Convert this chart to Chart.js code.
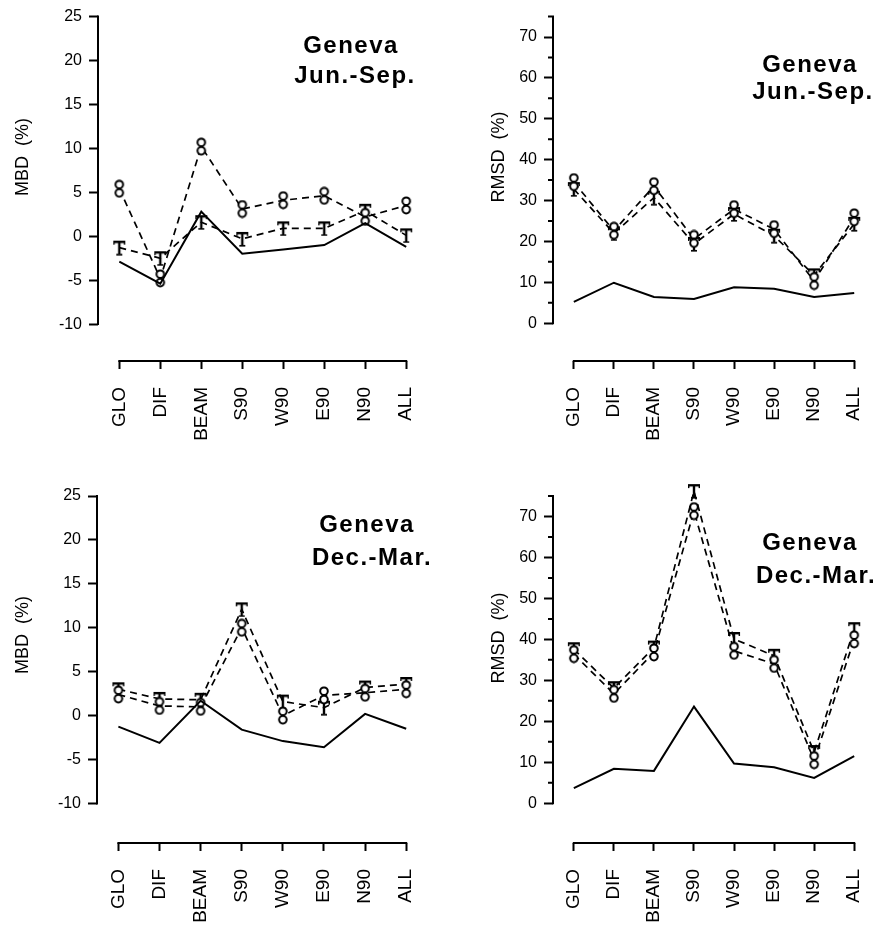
<!DOCTYPE html>
<html>
<head>
<meta charset="utf-8">
<script src="https://cdn.jsdelivr.net/npm/chart.js@4.4.1/dist/chart.umd.min.js"></script>
<style>
  html, body { margin: 0; padding: 0; background: #fff; }
  #wrap { position: relative; width: 895px; height: 926px; }
  canvas { position: absolute; }
</style>
</head>
<body>
<div id="wrap">
  <canvas id="mbdSummer" width="447" height="463" style="left:0;top:0"></canvas>
  <canvas id="rmsdSummer" width="448" height="463" style="left:447px;top:0"></canvas>
  <canvas id="mbdWinter" width="447" height="463" style="left:0;top:463px"></canvas>
  <canvas id="rmsdWinter" width="448" height="463" style="left:447px;top:463px"></canvas>
</div>
<script>
// categories + tick labels
const categories = ["GLO", "DIF", "BEAM", "S90", "W90", "E90", "N90", "ALL"];
const mbdTicks = [-10, -5, 0, 5, 10, 15, 20, 25];
const rmsdTicks = [0, 10, 20, 30, 40, 50, 60, 70];
const rmsdMinorTicks = [5, 15, 25, 35, 45, 55, 65, 75];

// Jun.-Sep.
const mbdSummerSolid   = [-2.9, -5.4, 2.8, -2.0, -1.5, -1.0, 1.5, -1.2];
const mbdSummerCircle  = [5.4, -4.8, 10.2, 3.1, 4.1, 4.6, 2.2, 3.5];
const mbdSummerTee     = [-1.3, -2.5, 1.6, -0.3, 0.9, 0.9, 2.9, 0.1];
const rmsdSummerSolid  = [5.2, 9.9, 6.4, 5.9, 8.8, 8.4, 6.4, 7.4];
const rmsdSummerCircle = [34.5, 22.6, 33.5, 20.6, 27.9, 23.0, 10.3, 25.9];
const rmsdSummerTee    = [32.8, 22.0, 30.7, 19.4, 26.7, 21.4, 11.7, 24.3];

// Dec.-Mar.
const mbdWinterSolid   = [-1.25, -3.1, 1.7, -1.6, -2.9, -3.6, 0.2, -1.5];
const mbdWinterCircle  = [2.4, 1.1, 1.0, 10.0, 0.0, 2.3, 2.6, 3.0];
const mbdWinterTee     = [3.0, 1.9, 1.8, 12.1, 1.6, 0.9, 3.2, 3.6];
const rmsdWinterSolid  = [3.7, 8.4, 7.9, 23.6, 9.7, 8.8, 6.2, 11.5];
const rmsdWinterCircle = [36.4, 26.7, 36.8, 71.3, 37.2, 34.0, 10.5, 40.0];
const rmsdWinterTee    = [37.6, 28.1, 38.0, 76.2, 40.1, 36.0, 12.5, 42.5];

Chart.defaults.font.family = "'Liberation Sans', Arial, sans-serif";
Chart.defaults.color = "#000";

/* ---------- markers ---------- */
function eightMark() {
  const c = document.createElement("canvas");
  c.width = 12; c.height = 19;
  const g = c.getContext("2d");
  g.lineWidth = 2;
  g.strokeStyle = "#000";
  g.fillStyle = "#fff";
  [5.2, 13.6].forEach(cy => {
    g.beginPath();
    g.arc(6, cy, 3.8, 0, Math.PI * 2);
    g.fill();
    g.stroke();
  });
  return c;
}

function teeMark() {
  const c = document.createElement("canvas");
  c.width = 14; c.height = 16;
  const g = c.getContext("2d");
  g.fillStyle = "#000";
  g.fillRect(1, 1, 12, 2.4);     // bar
  g.fillRect(1, 1, 1.4, 4);      // serifs
  g.fillRect(11.6, 1, 1.4, 4);
  g.fillRect(5.8, 1, 2.4, 14);   // stem
  g.fillRect(4, 14, 6, 1.6);     // foot
  return c;
}

const circleStyle = eightMark();
const teeStyle = teeMark();

/* ---------- axes lines, minor ticks, titles ---------- */
const panelDecor = {
  id: "panelDecor",
  afterDraw(chart, args, o) {
    const ctx = chart.ctx;
    const xs = chart.scales.x, ys = chart.scales.y;
    const ax = chart.chartArea.left;
    const ay = chart.chartArea.bottom;
    ctx.save();
    ctx.strokeStyle = "#000";
    ctx.lineWidth = 2;
    ctx.beginPath();
    ctx.moveTo(ax, ys.getPixelForValue(o.axisTop) - 1);
    ctx.lineTo(ax, ys.getPixelForValue(o.axisBottom) + 1);
    ctx.moveTo(xs.getPixelForValue(0) - 1, ay);
    ctx.lineTo(xs.getPixelForValue(categories.length - 1) + 1, ay);
    (o.minor || []).forEach(v => {
      const py = ys.getPixelForValue(v);
      ctx.moveTo(ax - 5, py);
      ctx.lineTo(ax, py);
    });
    ctx.stroke();

    // y title
    ctx.save();
    ctx.translate(o.yTitleX, o.yTitleY);
    ctx.rotate(-Math.PI / 2);
    ctx.font = "18px 'Liberation Sans', Arial, sans-serif";
    ctx.fillStyle = "#000";
    ctx.textAlign = "center";
    ctx.textBaseline = "middle";
    ctx.fillText(o.yTitle, 0, 0);
    ctx.restore();

    // panel title
    ctx.font = "bold 24px 'Liberation Sans', Arial, sans-serif";
    ctx.fillStyle = "#000";
    ctx.textAlign = "center";
    ctx.textBaseline = "alphabetic";
    ctx.letterSpacing = "1.5px";
    o.title.forEach((t, i) => ctx.fillText(t, o.titleX[i], o.titleY[i]));
    ctx.restore();
  }
};

const toPoints = arr => arr.map((v, i) => ({ x: i, y: v }));

function makePanel(id, o) {
  const el = document.getElementById(id);
  const dashed = (data, style) => ({
    data: toPoints(data),
    borderColor: "#000",
    borderWidth: 1.7,
    borderDash: [7, 5],
    pointStyle: style,
    pointRadius: 7,
    clip: false
  });
  return new Chart(el, {
    type: "line",
    data: {
      datasets: [
        { data: toPoints(o.solid), borderColor: "#000", borderWidth: 2, pointRadius: 0, clip: false },
        dashed(o.circle, circleStyle),
        dashed(o.tee, teeStyle)
      ]
    },
    options: {
      responsive: false,
      animation: false,
      devicePixelRatio: 1,
      layout: { padding: { left: 0, top: o.top, right: el.width - o.right, bottom: 0 } },
      plugins: {
        legend: { display: false },
        tooltip: { enabled: false },
        panelDecor: o.decor
      },
      scales: {
        x: {
          type: "linear",
          min: -0.52,
          max: categories.length - 1,
          afterFit: s => { s.height = el.height - o.axisY; },
          afterBuildTicks: s => { s.ticks = categories.map((c, i) => ({ value: i })); },
          ticks: {
            callback: v => categories[v],
            minRotation: 90,
            maxRotation: 90,
            autoSkip: false,
            padding: 18,
            font: { size: 19 }
          },
          grid: { drawOnChartArea: false, tickLength: 8, tickWidth: 2, color: "#000" },
          border: { display: false }
        },
        y: {
          min: o.yMin,
          max: o.yMax,
          afterFit: s => { s.width = o.axisX; },
          afterBuildTicks: s => { s.ticks = o.yTicks.map(v => ({ value: v })); },
          ticks: { font: { size: 16 }, padding: 7, callback: v => String(v) },
          grid: { drawOnChartArea: false, tickLength: 9, tickWidth: 2, color: "#000" },
          border: { display: false }
        }
      }
    },
    plugins: [panelDecor]
  });
}

makePanel("mbdSummer", {
  solid: mbdSummerSolid, circle: mbdSummerCircle, tee: mbdSummerTee,
  top: 15, right: 428, axisX: 98, axisY: 361, yMin: -14.2, yMax: 25, yTicks: mbdTicks,
  decor: { axisTop: 25, axisBottom: -10, yTitle: "MBD  (%)", yTitleX: 23, yTitleY: 157,
           title: ["Geneva", "Jun.-Sep."], titleX: [351, 355], titleY: [53, 83] }
});
makePanel("rmsdSummer", {
  solid: rmsdSummerSolid, circle: rmsdSummerCircle, tee: rmsdSummerTee,
  top: 15, right: 436, axisX: 106, axisY: 361, yMin: -9.25, yMax: 75, yTicks: rmsdTicks,
  decor: { axisTop: 75, axisBottom: 0, minor: rmsdMinorTicks, yTitle: "RMSD  (%)", yTitleX: 52, yTitleY: 157,
           title: ["Geneva", "Jun.-Sep."], titleX: [363, 366], titleY: [72, 99] }
});
makePanel("mbdWinter", {
  solid: mbdWinterSolid, circle: mbdWinterCircle, tee: mbdWinterTee,
  top: 33, right: 428, axisX: 97, axisY: 380, yMin: -14.5, yMax: 25, yTicks: mbdTicks,
  decor: { axisTop: 25, axisBottom: -10, yTitle: "MBD  (%)", yTitleX: 23, yTitleY: 172,
           title: ["Geneva", "Dec.-Mar."], titleX: [367, 372], titleY: [69, 102] }
});
makePanel("rmsdWinter", {
  solid: rmsdWinterSolid, circle: rmsdWinterCircle, tee: rmsdWinterTee,
  top: 33, right: 436, axisX: 106, axisY: 380, yMin: -9.7, yMax: 75, yTicks: rmsdTicks,
  decor: { axisTop: 75, axisBottom: 0, minor: rmsdMinorTicks, yTitle: "RMSD  (%)", yTitleX: 52, yTitleY: 175,
           title: ["Geneva", "Dec.-Mar."], titleX: [363, 369], titleY: [87, 120] }
});
</script>
</body>
</html>
